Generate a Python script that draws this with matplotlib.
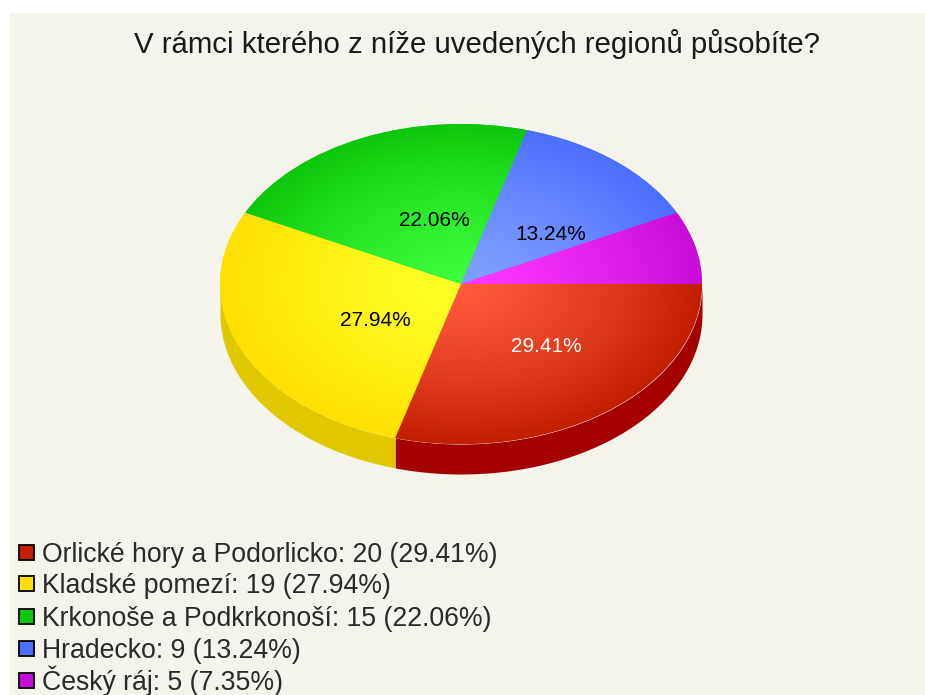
import numpy as np
import matplotlib
matplotlib.use('Agg')
import matplotlib.pyplot as plt
from matplotlib.colors import LinearSegmentedColormap
from matplotlib.patches import Rectangle

W, H = 925, 695

regions = ['Orlické hory a Podorlicko', 'Kladské pomezí', 'Krkonoše a Podkrkonoší', 'Hradecko', 'Český ráj']
counts = [20, 19, 15, 9, 5]
percents = ['29.41', '27.94', '22.06', '13.24', '7.35']

#colours: edge of the slice, centre of the slice, side wall
edge_col = ['#c41e00', '#ffe000', '#0cc80c', '#4b6fff', '#c80cd8']
mid_col = ['#ff5a3c', '#ffff28', '#3cff3c', '#80a0ff', '#ff38ff']
wall_col = ['#a50000', '#e0c800', '#0a9a0a', '#3a55c0', '#9a0aa8']
label_col = ['white', 'black', 'black', 'black']

#pie geometry in pixels of the picture
CX, CY, RX, RY, DEPTH = 461, 284, 241, 160, 30
#label centres in pixels, the 7.35% slice has no label
label_px = [(546, 347), (375, 321), (434, 221), (551, 235)]
#legend rows: text baseline in pixels
legend_base = [562, 593, 626, 658, 690]


def to_x(px):
    return (px - CX) / RX


def to_y(py):
    return (CY - py) / RY


plt.rcParams['font.family'] = ['Liberation Sans', 'DejaVu Sans']
fig = plt.figure(figsize=(W / 100, H / 100), dpi=100, facecolor='white')
fig.add_artist(Rectangle((10 / W, 0), 1 - 10 / W, 1 - 13 / H, transform=fig.transFigure,
                         facecolor='#f4f3ec', edgecolor='none', zorder=-5))

ax = fig.add_axes([0, 0, 1, 1])
ax.patch.set_alpha(0)
wedges, _ = ax.pie(counts, startangle=0, counterclock=False, colors=edge_col, radius=1,
                   wedgeprops={'linewidth': 0, 'zorder': 2})

#side wall, only the front half of the pie shows it
depth = DEPTH / RY
angles = np.cumsum([0] + counts) / sum(counts) * 360
for i in range(len(counts)):
    a0, a1 = angles[i], min(angles[i + 1], 180)
    if a0 >= 180:
        continue
    t = np.radians(np.linspace(a0, a1, 120))
    ax.fill_between(np.cos(t), -np.sin(t), -np.sin(t) - depth, color=wall_col[i], lw=0, zorder=1)

#radial gradient on top of each slice
g = np.linspace(-1, 1, 700)
xx, yy = np.meshgrid(g, g)
rr = np.clip(np.hypot(xx, yy), 0, 1) ** 1.3
for i, wd in enumerate(wedges):
    cm = LinearSegmentedColormap.from_list('s%d' % i, [mid_col[i], edge_col[i]])
    im = ax.imshow(rr, cmap=cm, extent=(-1, 1, -1, 1), origin='lower', aspect='auto',
                   vmin=0, vmax=1, zorder=3, interpolation='bilinear')
    im.set_clip_path(wd)

ax.set_aspect('auto')
ax.set_xlim(to_x(0), to_x(W))
ax.set_ylim(to_y(H), to_y(0))
ax.axis('off')

for p, c, pos in zip(percents, label_col, label_px):
    ax.text(to_x(pos[0]), to_y(pos[1]), p + '%', color=c, fontsize=15, ha='center', va='center', zorder=5)

ax.text(to_x(476.5), to_y(44), 'V rámci kterého z níže uvedených regionů působíte?', fontsize=21.15,
        color='#1a1a1a', ha='center', va='center', zorder=5)

#legend rows placed by hand, the spacing of the original is not even
for r, n, p, c, base in zip(regions, counts, percents, edge_col, legend_base):
    ax.add_patch(Rectangle((to_x(19), to_y(base - 2)), 15 / RX, 15 / RY, facecolor=c,
                           edgecolor='black', linewidth=1.3, zorder=5))
    ax.text(to_x(42), to_y(base), '%s: %d (%s%%)' % (r, n, p), fontsize=19.2, color='#2a2a2a',
            ha='left', va='baseline', zorder=5)

plt.savefig('out.png', dpi=100)
